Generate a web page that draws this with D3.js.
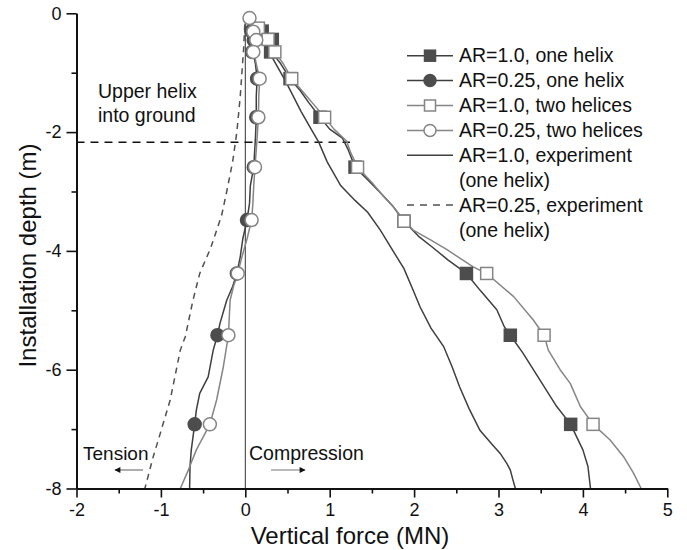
<!DOCTYPE html>
<html>
<head>
<meta charset="utf-8">
<script src="https://cdn.jsdelivr.net/npm/d3@7"></script>
<style>
  html, body { margin: 0; padding: 0; background: #fff; }
  svg { display: block; }
  text { font-family: "Liberation Sans", Arial, sans-serif; fill: #111; }
</style>
</head>
<body>
<svg id="chart" width="687" height="550"></svg>
<script>
// ---------------- data (force in MN, depth in m) ----------------
const forceTicks = [-2, -1, 0, 1, 2, 3, 4, 5];
const forceMinorTicks = [-1.5, -0.5, 0.5, 1.5, 2.5, 3.5, 4.5];
const depthTicks = [0, -2, -4, -6, -8];
const depthMinorTicks = [-1, -3, -5, -7];

const seriesNames = [
  "AR=1.0, one helix",
  "AR=0.25, one helix",
  "AR=1.0, two helices",
  "AR=0.25, two helices",
  "AR=1.0, experiment",
  "AR=0.25, experiment"
];

const ar10OneHelix = [
  [0.02,-0.03],[0.1,-0.15],[0.2,-0.3],[0.32,-0.45],[0.31,-0.65],[0.42,-0.85],[0.53,-1.1],
  [0.65,-1.3],[0.75,-1.5],[0.885,-1.75],[1.0,-1.95],[1.15,-2.1],[1.22,-2.3],[1.3,-2.59],
  [1.45,-2.8],[1.62,-3.05],[1.75,-3.25],[1.88,-3.5],[2.05,-3.75],[2.21,-3.93],[2.4,-4.15],
  [2.62,-4.38],[2.78,-4.66],[2.98,-4.99],[3.07,-5.28],[3.14,-5.42],[3.29,-5.72],[3.49,-6.17],
  [3.69,-6.62],[3.855,-6.92],[4.0,-7.35],[4.06,-7.63],[4.09,-8.0]
];
const ar10OneHelixMarkers = [
  [0.2,-0.3],[0.32,-0.44],[0.3,-0.65],[0.53,-1.1],[0.885,-1.75],[1.3,-2.59],[1.88,-3.5],
  [2.62,-4.38],[3.14,-5.42],[3.855,-6.92]
];

const ar025OneHelix = [
  [0.02,-0.03],[0.05,-0.1],[0.08,-0.3],[0.1,-0.45],[0.09,-0.65],[0.12,-0.85],[0.14,-1.1],
  [0.13,-1.4],[0.13,-1.75],[0.12,-2.1],[0.1,-2.59],[0.06,-2.9],[0.05,-3.2],[0.02,-3.48],
  [-0.03,-3.8],[-0.06,-4.1],[-0.1,-4.38],[-0.15,-4.6],[-0.22,-4.83],[-0.3,-5.22],[-0.33,-5.42],
  [-0.38,-5.67],[-0.44,-6.12],[-0.54,-6.4],[-0.58,-6.68],[-0.6,-6.92],[-0.64,-7.35],
  [-0.655,-7.63],[-0.66,-8.0]
];
const ar025OneHelixMarkers = [
  [0.07,-0.3],[0.1,-0.45],[0.08,-0.65],[0.14,-1.1],[0.13,-1.75],[0.1,-2.59],[0.02,-3.48],
  [-0.1,-4.38],[-0.33,-5.42],[-0.6,-6.92]
];

const ar10TwoHelices = [
  [0.0,-0.03],[0.155,-0.25],[0.27,-0.44],[0.35,-0.65],[0.45,-0.85],[0.55,-1.1],[0.7,-1.35],
  [0.82,-1.55],[0.94,-1.75],[1.05,-1.95],[1.2,-2.15],[1.25,-2.35],[1.33,-2.59],[1.5,-2.85],
  [1.65,-3.1],[1.78,-3.3],[1.88,-3.5],[1.99,-3.65],[2.2,-3.82],[2.39,-3.98],[2.7,-4.27],
  [2.86,-4.38],[3.18,-4.77],[3.41,-5.16],[3.54,-5.42],[3.59,-5.67],[3.73,-6.0],[3.85,-6.23],
  [3.97,-6.62],[4.12,-6.92],[4.32,-7.18],[4.48,-7.46],[4.6,-7.74],[4.69,-8.0]
];
const ar10TwoHelicesMarkers = [
  [0.155,-0.25],[0.27,-0.44],[0.35,-0.65],[0.55,-1.1],[0.94,-1.75],[1.33,-2.59],[1.88,-3.5],
  [2.86,-4.38],[3.54,-5.42],[4.12,-6.92]
];

const ar025TwoHelices = [
  [0.01,-0.03],[0.05,-0.08],[0.09,-0.3],[0.13,-0.45],[0.1,-0.65],[0.13,-0.85],[0.17,-1.1],
  [0.16,-1.4],[0.155,-1.75],[0.14,-2.1],[0.115,-2.59],[0.1,-2.9],[0.09,-3.2],[0.075,-3.48],
  [0.02,-3.8],[-0.04,-4.1],[-0.09,-4.38],[-0.14,-4.6],[-0.18,-4.83],[-0.2,-5.42],[-0.26,-5.95],
  [-0.34,-6.51],[-0.42,-6.92],[-0.58,-7.35],[-0.675,-7.69],[-0.77,-8.0]
];
const ar025TwoHelicesMarkers = [
  [0.05,-0.08],[0.095,-0.31],[0.13,-0.45],[0.095,-0.65],[0.17,-1.1],[0.155,-1.75],[0.115,-2.59],
  [0.075,-3.48],[-0.09,-4.38],[-0.2,-5.42],[-0.42,-6.92]
];

const ar10Experiment = [
  [0,0],[0.08,-0.15],[0.16,-0.35],[0.29,-0.67],[0.48,-1.15],[0.66,-1.65],[0.78,-1.95],
  [0.87,-2.17],[0.97,-2.5],[1.13,-2.9],[1.3,-3.15],[1.45,-3.35],[1.6,-3.65],[1.75,-4.0],
  [1.88,-4.3],[2.0,-4.7],[2.07,-4.94],[2.2,-5.3],[2.35,-5.61],[2.45,-5.95],[2.54,-6.29],
  [2.65,-6.65],[2.78,-7.02],[2.92,-7.25],[3.02,-7.41],[3.1,-7.58],[3.14,-7.69],[3.17,-7.85],
  [3.2,-8.0]
];

const ar025Experiment = [
  [0,0],[-0.02,-0.6],[-0.06,-1.4],[-0.1,-2.0],[-0.15,-2.5],[-0.22,-3.0],[-0.28,-3.4],
  [-0.41,-3.95],[-0.54,-4.38],[-0.62,-4.83],[-0.71,-5.44],[-0.77,-5.67],[-0.89,-6.51],
  [-1.03,-7.18],[-1.09,-7.46],[-1.19,-8.0]
];

const helixLine = [[-2, -2.17], [1.24, -2.17]];

// ---------------- drawing ----------------
const svg = d3.select("#chart");
const x = d3.scaleLinear().domain([-2, 5]).range([76.5, 667.3]);
const y = d3.scaleLinear().domain([0, -8]).range([13.3, 488.5]);

const DARK = "#3f3f3f", GRAY = "#858585", FILL = "#4d4d4d";
const FONT = "'Liberation Sans', Arial, sans-serif";

const line = d3.line().x(d => x(d[0])).y(d => y(d[1]));

// zero line
svg.append("line")
  .attr("x1", x(0)).attr("x2", x(0)).attr("y1", y(0)).attr("y2", y(-8))
  .attr("stroke", "#333").attr("stroke-width", 1);

// dashed "upper helix" line
svg.append("path").datum(helixLine).attr("d", line)
  .attr("fill", "none").attr("stroke", "#111").attr("stroke-width", 1.5)
  .attr("stroke-dasharray", "8,6");

// experiment lines
svg.append("path").datum(ar025Experiment).attr("d", line)
  .attr("fill", "none").attr("stroke", "#505050").attr("stroke-width", 1.5)
  .attr("stroke-dasharray", "6,5");
svg.append("path").datum(ar10Experiment).attr("d", line)
  .attr("fill", "none").attr("stroke", DARK).attr("stroke-width", 1.5);

// numeric lines
function drawLine(data, color) {
  svg.append("path").datum(data).attr("d", line)
    .attr("fill", "none").attr("stroke", color).attr("stroke-width", 1.5)
    .attr("stroke-linejoin", "round");
}
drawLine(ar025OneHelix, DARK);
drawLine(ar10OneHelix, DARK);
drawLine(ar025TwoHelices, GRAY);
drawLine(ar10TwoHelices, GRAY);

const MS = 12;
function squares(data, fill, stroke) {
  svg.append("g").selectAll("rect").data(data).join("rect")
    .attr("x", d => x(d[0]) - MS / 2).attr("y", d => y(d[1]) - MS / 2)
    .attr("width", MS).attr("height", MS)
    .attr("fill", fill).attr("stroke", stroke).attr("stroke-width", 1.5);
}
function circles(data, fill, stroke) {
  svg.append("g").selectAll("circle").data(data).join("circle")
    .attr("cx", d => x(d[0])).attr("cy", d => y(d[1])).attr("r", MS / 2 + 0.5)
    .attr("fill", fill).attr("stroke", stroke).attr("stroke-width", 1.5);
}
squares(ar10OneHelixMarkers, FILL, FILL);
circles(ar025OneHelixMarkers, FILL, FILL);
squares(ar10TwoHelicesMarkers, "#fff", GRAY);
circles(ar025TwoHelicesMarkers, "#fff", GRAY);

// axes
const fmt = d => String(d);
const xAxis = svg.append("g").attr("transform", `translate(0,${y(-8)})`)
  .call(d3.axisBottom(x).tickValues(forceTicks).tickFormat(fmt).tickSize(9).tickSizeOuter(0));
svg.append("g").attr("transform", `translate(0,${y(-8)})`)
  .call(d3.axisBottom(x).tickValues(forceMinorTicks).tickFormat("").tickSize(5).tickSizeOuter(0));
const yAxis = svg.append("g").attr("transform", `translate(${x(-2)},0)`)
  .call(d3.axisLeft(y).tickValues(depthTicks).tickFormat(fmt).tickSize(10).tickSizeOuter(0));
svg.append("g").attr("transform", `translate(${x(-2)},0)`)
  .call(d3.axisLeft(y).tickValues(depthMinorTicks).tickFormat("").tickSize(5).tickSizeOuter(0));

svg.selectAll(".domain").attr("stroke", "#111").attr("stroke-width", 2);
svg.selectAll(".tick line").attr("stroke", "#111").attr("stroke-width", 1.6);
xAxis.selectAll(".tick text").attr("font-size", 18).attr("font-family", FONT)
  .attr("fill", "#111").attr("dy", "0.85em").attr("y", 12);
yAxis.selectAll(".tick text").attr("font-size", 18).attr("font-family", FONT)
  .attr("fill", "#111").attr("x", -15);

// axis titles
svg.append("text").attr("x", 350).attr("y", 544).attr("text-anchor", "middle")
  .attr("font-size", 24).text("Vertical force (MN)");
svg.append("text").attr("transform", "translate(36,255.5) rotate(-90)")
  .attr("text-anchor", "middle").attr("font-size", 24).text("Installation depth (m)");

// annotations
svg.append("text").attr("x", 98).attr("y", 97.5).attr("font-size", 19.5).text("Upper helix");
svg.append("text").attr("x", 98).attr("y", 121.5).attr("font-size", 19.5).text("into ground");
svg.append("text").attr("x", 83).attr("y", 460).attr("font-size", 19).text("Tension");
svg.append("text").attr("x", 249).attr("y", 460).attr("font-size", 19.5).text("Compression");

const defs = svg.append("defs");
defs.append("marker").attr("id", "ah").attr("viewBox", "0 0 10 10").attr("refX", 9).attr("refY", 5)
  .attr("markerWidth", 10).attr("markerHeight", 6).attr("markerUnits", "userSpaceOnUse")
  .attr("orient", "auto")
  .append("path").attr("d", "M0,0 L10,5 L0,10 z").attr("fill", "#111");
svg.append("line").attr("x1", 143).attr("x2", 115).attr("y1", 470).attr("y2", 470)
  .attr("stroke", "#777").attr("stroke-width", 1.2).attr("marker-end", "url(#ah)");
svg.append("line").attr("x1", 271).attr("x2", 305).attr("y1", 470).attr("y2", 470)
  .attr("stroke", "#777").attr("stroke-width", 1.2).attr("marker-end", "url(#ah)");

// legend
const legendX0 = 407, legendX1 = 453, legendTextX = 459, legendBase = 62.3, legendStep = 24.9;
const legendRows = [
  { label: [seriesNames[0]], color: DARK, marker: "square", fill: FILL },
  { label: [seriesNames[1]], color: DARK, marker: "circle", fill: FILL },
  { label: [seriesNames[2]], color: GRAY, marker: "square", fill: "#fff" },
  { label: [seriesNames[3]], color: GRAY, marker: "circle", fill: "#fff" },
  { label: [seriesNames[4], "(one helix)"], color: DARK, marker: null },
  { label: [seriesNames[5], "(one helix)"], color: "#505050", marker: null, dash: "7,6" }
];
let row = 0;
legendRows.forEach(r => {
  const base = legendBase + row * legendStep;
  const cy = base - 6.6;
  svg.append("line").attr("x1", legendX0).attr("x2", legendX1).attr("y1", cy).attr("y2", cy)
    .attr("stroke", r.color).attr("stroke-width", 1.5)
    .attr("stroke-dasharray", r.dash || null);
  const mx = (legendX0 + legendX1) / 2;
  if (r.marker === "square") {
    svg.append("rect").attr("x", mx - 5.5).attr("y", cy - 5.5).attr("width", 11).attr("height", 11)
      .attr("fill", r.fill).attr("stroke", r.fill === "#fff" ? GRAY : FILL).attr("stroke-width", 1.5);
  } else if (r.marker === "circle") {
    svg.append("circle").attr("cx", mx).attr("cy", cy).attr("r", 6)
      .attr("fill", r.fill).attr("stroke", r.fill === "#fff" ? GRAY : FILL).attr("stroke-width", 1.5);
  }
  r.label.forEach((t, i) => {
    svg.append("text").attr("x", legendTextX).attr("y", base + i * legendStep)
      .attr("font-size", 19.5).text(t);
  });
  row += r.label.length;
});
</script>
</body>
</html>
